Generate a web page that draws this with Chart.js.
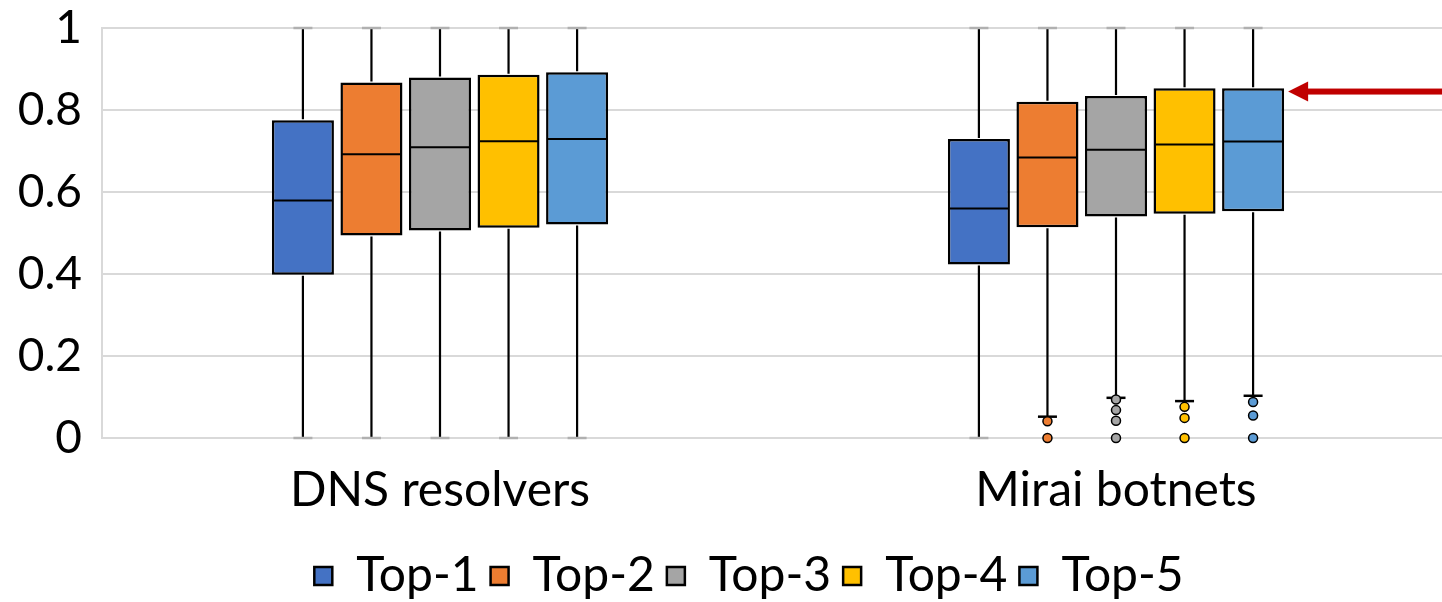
<!DOCTYPE html>
<html>
<head>
<meta charset="utf-8">
<script src="https://cdn.jsdelivr.net/npm/chart.js@4"></script>
<style>
  html, body { margin: 0; padding: 0; background: #fff; overflow: hidden; }
  /* a bit wider than the window: the plot runs past the right edge like the original */
  #wrap { width: 1454px; height: 602px; }
</style>
</head>
<body>
<div id="wrap"><canvas id="boxChart"></canvas></div>
<script>
const categories = ['DNS resolvers', 'Mirai botnets'];
const seriesNames = ['Top-1', 'Top-2', 'Top-3', 'Top-4', 'Top-5'];
const seriesColors = ['#4472C4', '#ED7D31', '#A5A5A5', '#FFC000', '#5B9BD5'];

// one row per series, one value per category
const minVals = [[0, 0], [0, 0.052], [0, 0.098], [0, 0.090], [0, 0.103]];
const q1Vals = [[0.398, 0.423], [0.494, 0.514], [0.506, 0.540], [0.513, 0.547], [0.521, 0.553]];
const medianVals = [[0.579, 0.560], [0.692, 0.684], [0.709, 0.703], [0.724, 0.716], [0.729, 0.723]];
const q3Vals = [[0.775, 0.729], [0.867, 0.820], [0.879, 0.834], [0.886, 0.853], [0.892, 0.853]];
const maxVals = [[1, 1], [1, 1], [1, 1], [1, 1], [1, 1]];
const outlierVals = [
  [[], []],
  [[], [0.041, 0]],
  [[], [0.094, 0.068, 0.042, 0]],
  [[], [0.076, 0.049, 0]],
  [[], [0.088, 0.055, 0]]
];
const yTicks = [0, 0.2, 0.4, 0.6, 0.8, 1];
const arrowValue = 0.845; // red marker pointing at Mirai Top-5

const FONT = 'Lato';

// whiskers, medians and outliers drawn on top of the floating bars
const boxPlotPlugin = {
  id: 'boxPlot',
  afterLayout(chart) {
    // legend sits a little right of the canvas centre in the original
    chart.legend.left += 22;
    chart.legend.right += 22;
  },
  afterDatasetsDraw(chart) {
    const ctx = chart.ctx;
    const y = chart.scales.y;
    ctx.save();
    chart.data.datasets.forEach((ds, i) => {
      const meta = chart.getDatasetMeta(i);
      meta.data.forEach((bar, j) => {
        const cx = bar.x;
        const half = bar.width / 2;
        const capHalf = 9.5;
        const yMin = y.getPixelForValue(minVals[i][j]);
        const yMax = y.getPixelForValue(maxVals[i][j]);
        const yQ1 = y.getPixelForValue(q1Vals[i][j]);
        const yQ3 = y.getPixelForValue(q3Vals[i][j]);
        const yMed = y.getPixelForValue(medianVals[i][j]);

        ctx.strokeStyle = '#000';
        ctx.lineWidth = 2.2;
        ctx.beginPath();
        ctx.moveTo(cx, yQ3 - 1); ctx.lineTo(cx, yMax);
        ctx.moveTo(cx, yQ1 + 1); ctx.lineTo(cx, yMin);
        ctx.stroke();

        // caps: on the axis edge they blend into the grid
        [[minVals[i][j], yMin], [maxVals[i][j], yMax]].forEach(([v, py]) => {
          ctx.strokeStyle = (v === y.min || v === y.max) ? '#b0b0b0' : '#000';
          ctx.lineWidth = 2.5;
          ctx.beginPath();
          ctx.moveTo(cx - capHalf, py); ctx.lineTo(cx + capHalf, py);
          ctx.stroke();
        });

        ctx.strokeStyle = '#000';
        ctx.lineWidth = 2;
        ctx.beginPath();
        ctx.moveTo(cx - half + 1, yMed); ctx.lineTo(cx + half - 1, yMed);
        ctx.stroke();

        outlierVals[i][j].forEach(v => {
          ctx.beginPath();
          ctx.arc(cx, y.getPixelForValue(v), 4.5, 0, Math.PI * 2);
          ctx.fillStyle = seriesColors[i];
          ctx.fill();
          ctx.lineWidth = 1.5;
          ctx.strokeStyle = '#000';
          ctx.stroke();
        });
      });
    });

    // red arrow
    const target = chart.getDatasetMeta(4).data[1];
    const tipX = target.x + target.width / 2 + 4;
    const ay = y.getPixelForValue(arrowValue);
    ctx.fillStyle = '#C00000';
    ctx.fillRect(tipX + 18, ay - 3, chart.width - tipX - 18, 6);
    ctx.beginPath();
    ctx.moveTo(tipX, ay);
    ctx.lineTo(tipX + 20, ay - 10);
    ctx.lineTo(tipX + 20, ay + 10);
    ctx.closePath();
    ctx.fill();
    ctx.restore();
  }
};

const datasets = seriesNames.map((name, i) => ({
  label: name,
  data: categories.map((c, j) => [q1Vals[i][j], q3Vals[i][j]]),
  backgroundColor: seriesColors[i],
  borderColor: '#000',
  borderWidth: 2.5,
  borderSkipped: false,
  categoryPercentage: 0.507,
  barPercentage: 0.905
}));

new Chart(document.getElementById('boxChart'), {
  type: 'bar',
  data: { labels: categories, datasets },
  plugins: [boxPlotPlugin],
  options: {
    responsive: true,
    maintainAspectRatio: false,
    animation: false,
    layout: { padding: { left: 0, right: 0, top: 28, bottom: -8 } },
    plugins: {
      tooltip: { enabled: false },
      legend: {
        position: 'bottom',
        labels: {
          boxWidth: 18,
          boxHeight: 18,
          padding: 12,
          color: '#000',
          font: { family: FONT, size: 48 }
        }
      }
    },
    scales: {
      x: {
        grid: { display: false },
        border: { display: false },
        ticks: { color: '#000', padding: 16, font: { family: FONT, size: 48 } },
        afterFit(scale) { scale.height = 102; }
      },
      y: {
        min: 0,
        max: 1,
        afterBuildTicks(scale) { scale.ticks = yTicks.map(v => ({ value: v })); },
        grid: { color: '#d9d9d9', lineWidth: 2, drawTicks: false },
        border: { color: '#d9d9d9', width: 2 },
        ticks: {
          color: '#000',
          padding: 20,
          font: { family: FONT, size: 46 },
          callback: v => String(v)
        },
        afterFit(scale) {
          scale.width = 102;
          scale.paddingTop = 0;
          scale.paddingBottom = 0;
        }
      }
    }
  }
});
</script>
</body>
</html>
